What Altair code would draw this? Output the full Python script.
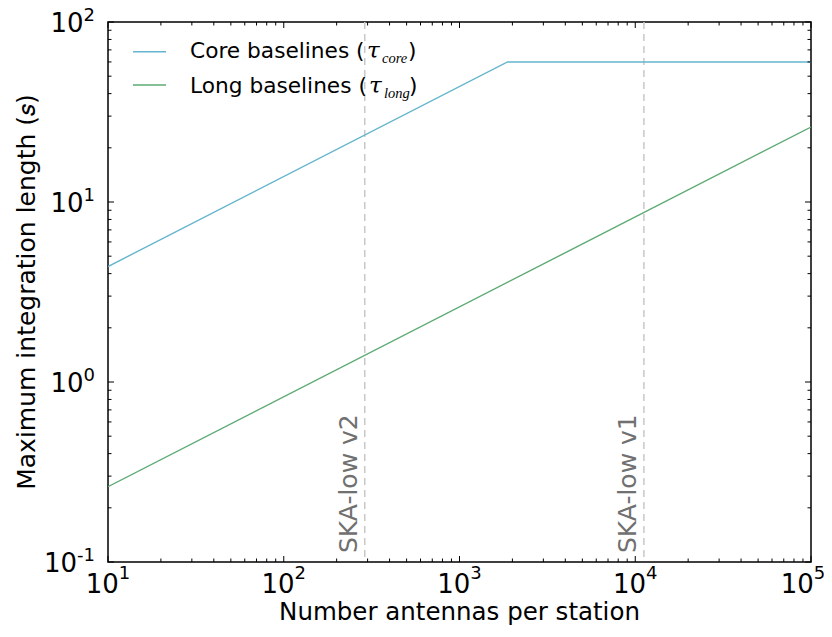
import altair as alt
import pandas as pd

# ---------------- data ----------------
n_core = [10, 1876, 100000]
tau_core = [4.38, 60.0, 60.0]
n_long = [10, 100000]
tau_long = [0.262, 26.1]

ska_labels = ["SKA-low v2", "SKA-low v1"]
ska_antennas = [289, 11200]

legend_names = ["Core baselines (", "Long baselines ("]
legend_subs = ["core", "long"]
legend_colors = ["#64B5CD", "#5DAA73"]

x_decades = [10, 100, 1000, 10000, 100000]
x_exponents = ["1", "2", "3", "4", "5"]
y_decades = [0.1, 1, 10, 100]
y_exponents = ["-1", "0", "1", "2"]
x_minor = [m * 10 ** k for k in range(1, 5) for m in range(2, 10)]
y_minor = [round(m * 10.0 ** k, 3) for k in range(-1, 2) for m in range(2, 10)]

x_title = "Number antennas per station"
y_title = "Maximum integration length (𝑠)"

# ---------------- layout / style ----------------
W, H = 703, 540
FONT = "DejaVu Sans"
SERIF = "Liberation Serif"
xs = alt.Scale(type="log", domain=[10, 100000])
ys = alt.Scale(type="log", domain=[0.1, 100])


def X(f):
    return alt.X(f, type="quantitative", scale=xs, axis=None)


def Y(f):
    return alt.Y(f, type="quantitative", scale=ys, axis=None)


layers = []

# dashed reference lines
ska_df = pd.DataFrame({"n": ska_antennas, "label": ska_labels})
layers.append(
    alt.Chart(ska_df).mark_rule(color="#c8c8c8", strokeWidth=1.5, strokeDash=[7, 5])
    .encode(x=X("n"))
)
layers.append(
    alt.Chart(ska_df).mark_text(angle=270, align="left", baseline="alphabetic", dy=-8,
                                fontSize=25, color="#707070", font=FONT)
    .encode(x=X("n"), y=alt.value(H - 9), text="label:N")
)

# data lines
layers.append(
    alt.Chart(pd.DataFrame({"n": n_core, "t": tau_core}))
    .mark_line(color=legend_colors[0], strokeWidth=1.4, clip=True)
    .encode(x=X("n"), y=Y("t"))
)
layers.append(
    alt.Chart(pd.DataFrame({"n": n_long, "t": tau_long}))
    .mark_line(color=legend_colors[1], strokeWidth=1.4, clip=True)
    .encode(x=X("n"), y=Y("t"))
)

# inward ticks on all four sides
def xticks(vals, length):
    base = alt.Chart(pd.DataFrame({"v": vals})).mark_rule(color="black", strokeWidth=1)
    return [
        base.encode(x=X("v"), y=alt.value(H), y2=alt.value(H - length)),
        base.encode(x=X("v"), y=alt.value(0), y2=alt.value(length)),
    ]


def yticks(vals, length):
    base = alt.Chart(pd.DataFrame({"v": vals})).mark_rule(color="black", strokeWidth=1)
    return [
        base.encode(y=Y("v"), x=alt.value(0), x2=alt.value(length)),
        base.encode(y=Y("v"), x=alt.value(W), x2=alt.value(W - length)),
    ]


layers += xticks(x_decades, 6) + xticks(x_minor, 3.5)
layers += yticks(y_decades, 6) + yticks(y_minor, 3.5)

# tick labels  10^k
xl = pd.DataFrame({"v": x_decades, "e": x_exponents})
for cond, shift in (("datum.v < 50000", 0), ("datum.v >= 50000", -8)):
    layers.append(
        alt.Chart(xl).transform_filter(cond)
        .mark_text(align="right", baseline="alphabetic", dx=10.8 + shift, fontSize=26,
                   font=FONT, color="black")
        .encode(x=X("v"), y=alt.value(H + 31), text=alt.value("10"))
    )
    layers.append(
        alt.Chart(xl).transform_filter(cond)
        .mark_text(align="left", baseline="alphabetic", dx=10.8 + shift, fontSize=18,
                   font=FONT, color="black")
        .encode(x=X("v"), y=alt.value(H + 17), text="e:N")
    )
yl = pd.DataFrame({"v": y_decades, "e": y_exponents})
layers.append(
    alt.Chart(yl).transform_filter("datum.v >= 0.5")
    .mark_text(align="right", baseline="alphabetic", dy=10, fontSize=26, font=FONT, color="black")
    .encode(y=Y("v"), x=alt.value(-24.5), text=alt.value("10"))
)
layers.append(
    alt.Chart(yl).transform_filter("datum.v < 0.5")
    .mark_text(align="right", baseline="alphabetic", dy=10, fontSize=26, font=FONT, color="black")
    .encode(y=Y("v"), x=alt.value(-31), text=alt.value("10"))
)
layers.append(
    alt.Chart(yl).mark_text(align="right", baseline="alphabetic", dy=-1, fontSize=18,
                            font=FONT, color="black")
    .encode(y=Y("v"), x=alt.value(-13), text="e:N")
)

# axis titles
layers.append(
    alt.Chart(pd.DataFrame({"t": [x_title]})).mark_text(
        align="center", baseline="alphabetic", fontSize=24.5, font=FONT, color="black")
    .encode(x=alt.value(W / 2), y=alt.value(H + 57.5), text="t:N")
)
layers.append(
    alt.Chart(pd.DataFrame({"t": [y_title]})).mark_text(
        align="center", baseline="alphabetic", angle=270, fontSize=25, font=FONT, color="black")
    .encode(x=alt.value(-73), y=alt.value(H / 2), text="t:N")
)

# legend (drawn by hand: label with math-style subscript)
leg_rows = [(29.7, 36.3, 259, 274, 300), (63.0, 71.0, 261, 276, 301)]
for i, (ly, ty, tau_x, sub_x, par_x) in enumerate(leg_rows):
    one = pd.DataFrame({"name": [legend_names[i]], "sub": [legend_subs[i]]})
    layers.append(
        alt.Chart(one).mark_rule(color=legend_colors[i], strokeWidth=1.4)
        .encode(x=alt.value(25), x2=alt.value(58), y=alt.value(ly))
    )
    layers.append(
        alt.Chart(one).mark_text(align="left", baseline="alphabetic", fontSize=21.7, font=FONT,
                                 color="black")
        .encode(x=alt.value(82), y=alt.value(ty), text="name:N")
    )
    layers.append(
        alt.Chart(one).mark_text(align="left", baseline="alphabetic", fontSize=23, font="DejaVu Serif",
                                 fontStyle="italic", color="black")
        .encode(x=alt.value(tau_x), y=alt.value(ty), text=alt.value("τ"))
    )
    layers.append(
        alt.Chart(one).mark_text(align="left", baseline="alphabetic", fontSize=14.5, font=SERIF,
                                 fontStyle="italic", color="black")
        .encode(x=alt.value(sub_x), y=alt.value(ty + 5), text="sub:N")
    )
    layers.append(
        alt.Chart(one).mark_text(align="left", baseline="alphabetic", fontSize=21.7, font=FONT,
                                 color="black")
        .encode(x=alt.value(par_x), y=alt.value(ty), text=alt.value(")"))
    )

chart = (
    alt.layer(*layers)
    .properties(
        width=W,
        height=H,
        autosize=alt.AutoSizeParams(type="none"),
        padding={"left": 100, "top": 14, "right": 13, "bottom": 63},
        background="white",
    )
    .configure_view(stroke="black", strokeWidth=1.5)
)

chart.save("out.html", embed_options={"renderer": "svg", "actions": False})
